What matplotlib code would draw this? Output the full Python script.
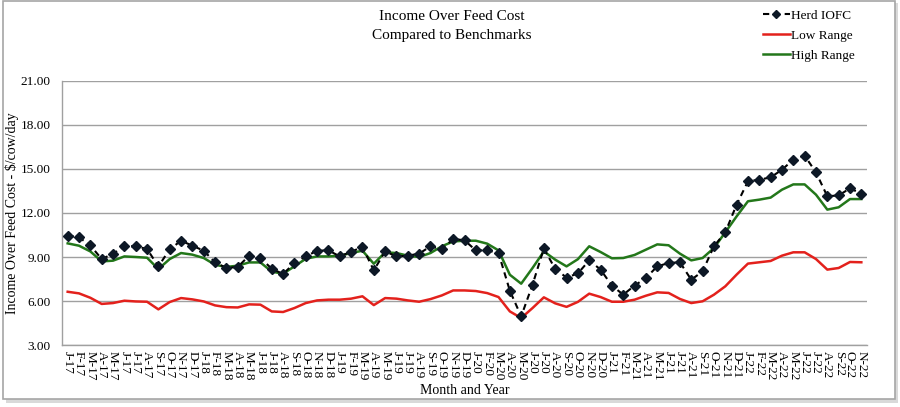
"""Income over feed cost vs. benchmark ranges, monthly 2017-2022."""

import matplotlib

matplotlib.use("Agg")
import matplotlib.pyplot as plt
from matplotlib.patches import Rectangle

plt.rcParams["font.family"] = ["Liberation Serif", "DejaVu Serif"]

month_letters = ["J", "F", "M", "A", "M", "J", "J", "A", "S", "O", "N", "D"]
years = ["17", "18", "19", "20", "21", "22"]
month_labels = [f"{m}-{y}" for y in years for m in month_letters][:71]

herd_iofc = [
    10.45, 10.34, 9.79, 8.86, 9.22, 9.73, 9.73, 9.55, 8.36, 9.52, 10.11, 9.77,
    9.43, 8.63, 8.25, 8.32, 9.09, 8.93, 8.20, 7.84, 8.59, 9.04, 9.43, 9.45,
    9.04, 9.36, 9.68, 8.09, 9.38, 9.04, 9.09, 9.23, 9.73, 9.52, 10.23, 10.14,
    9.45, 9.45, 9.27, 6.70, 4.95, 7.11, 9.59, 8.18, 7.60, 7.88, 8.77, 8.14,
    7.05, 6.43, 7.05, 7.57, 8.36, 8.59, 8.64, 7.45, 8.02, 9.73, 10.68, 12.57,
    14.16, 14.27, 14.43, 14.95, 15.64, 15.91, 14.77, 13.14, 13.20, 13.68, 13.32,
]
low_range = [
    6.63, 6.52, 6.22, 5.80, 5.86, 6.02, 5.97, 5.95, 5.43, 5.93, 6.20, 6.11,
    5.97, 5.70, 5.58, 5.56, 5.77, 5.75, 5.29, 5.25, 5.52, 5.86, 6.04, 6.09,
    6.09, 6.16, 6.32, 5.72, 6.20, 6.16, 6.04, 5.95, 6.13, 6.38, 6.72, 6.72,
    6.68, 6.54, 6.27, 5.29, 4.84, 5.52, 6.25, 5.84, 5.60, 5.94, 6.50, 6.27,
    5.95, 5.95, 6.09, 6.36, 6.59, 6.55, 6.14, 5.86, 5.98, 6.43, 7.00, 7.80,
    8.55, 8.64, 8.73, 9.09, 9.32, 9.32, 8.86, 8.14, 8.25, 8.66, 8.64,
]
high_range = [
    9.93, 9.77, 9.38, 8.70, 8.75, 9.04, 9.00, 8.95, 8.18, 8.86, 9.27, 9.16,
    8.93, 8.47, 8.32, 8.41, 8.63, 8.63, 8.00, 7.86, 8.36, 8.88, 9.04, 9.04,
    9.09, 9.27, 9.43, 8.54, 9.32, 9.27, 9.09, 9.00, 9.27, 9.73, 10.06, 10.11,
    10.11, 9.91, 9.45, 7.79, 7.18, 8.25, 9.38, 8.82, 8.36, 8.85, 9.73, 9.34,
    8.91, 8.93, 9.14, 9.50, 9.86, 9.80, 9.23, 8.77, 8.93, 9.61, 10.68, 11.77,
    12.80, 12.91, 13.05, 13.59, 13.95, 13.95, 13.25, 12.23, 12.39, 12.95, 12.95,
]
y_ticks = [3, 6, 9, 12, 15, 18, 21]

fig = plt.figure(figsize=(9, 4.07), dpi=100)

# chart frame with a soft shadow, like the spreadsheet export
fig.patches.append(Rectangle((6 / 900, 1 - 403 / 407), 892 / 900, 400 / 407,
                             transform=fig.transFigure, facecolor="#d9d9d9",
                             edgecolor="none", zorder=-2))
fig.patches.append(Rectangle((3 / 900, 1 - 399 / 407), 892 / 900, 398 / 407,
                             transform=fig.transFigure, facecolor="white",
                             edgecolor="#a6a6a6", linewidth=1.2, zorder=-1))

ax = fig.add_axes([62 / 900, 1 - 345 / 407, 805 / 900, 264 / 407])
ax.set_zorder(2)
ax.set_facecolor("none")
x = list(range(len(month_labels)))

ax.plot(x, herd_iofc, color="black", linestyle=(0, (3, 2.2)), linewidth=1.5,
        marker="D", markersize=5.5, markerfacecolor="#0d1826",
        markeredgecolor="#0d1826", label="Herd IOFC", zorder=4)
ax.plot(x, low_range, color="#e3211c", linewidth=1.8, label="Low Range", zorder=3)
ax.plot(x, high_range, color="#23771a", linewidth=1.8, label="High Range", zorder=3)

ax.set_xlim(-0.5, len(month_labels) - 0.5)
ax.set_ylim(3, 21)
ax.set_yticks(y_ticks)
ax.set_yticklabels([f"{v:.2f}" for v in y_ticks], fontsize=9.5)
ax.set_xticks(x)
ax.set_xticklabels(month_labels, rotation=-90, fontsize=9.5)
ax.tick_params(length=0, pad=4)
ax.tick_params(axis="y", pad=8)
ax.grid(axis="y", color="#a0a0a0", linewidth=1)
ax.set_axisbelow(True)
for side in ["top", "right"]:
    ax.spines[side].set_visible(False)
for side in ["left", "bottom"]:
    ax.spines[side].set_color("#a0a0a0")
    ax.spines[side].set_linewidth(1)

ax.set_xlabel("Month and Year", fontsize=10, labelpad=3)
ax.set_ylabel("Income Over Feed Cost - $/cow/day", fontsize=10, labelpad=1)

fig.text(452 / 900, 1 - 17 / 407, "Income Over Feed Cost", ha="center",
         va="center", fontsize=11)
fig.text(452 / 900, 1 - 35 / 407, "Compared to Benchmarks", ha="center",
         va="center", fontsize=11)

leg = fig.legend(loc="upper left", bbox_to_anchor=(758 / 900, 1 - 4 / 407),
                 frameon=False, fontsize=9.5, handlelength=2.0,
                 handletextpad=0.1, labelspacing=0.6, borderaxespad=0)
leg.legend_handles[0].set_markersize(4.5)

fig.savefig("out.png", dpi=100)
